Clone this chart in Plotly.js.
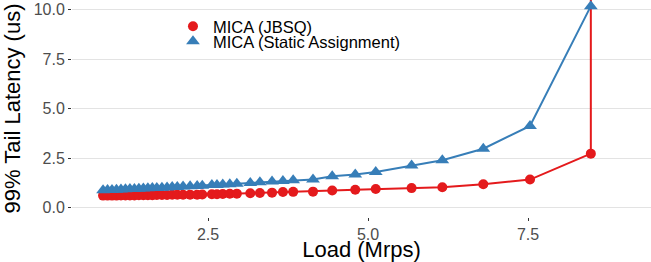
<!DOCTYPE html>
<html>
<head>
<meta charset="utf-8">
<script src="https://cdn.plot.ly/plotly-3.0.1.min.js"></script>
<style>html,body{margin:0;padding:0;background:#fff;}#chart{width:651px;height:262px;}</style>
</head>
<body>
<div id="chart"></div>
<script>
const seriesNames = ["MICA (JBSQ)", "MICA (Static Assignment)"];

const jbsqLoad = [0.86, 0.93, 1.0, 1.07, 1.14, 1.21, 1.28, 1.35, 1.42, 1.49, 1.56, 1.63, 1.70, 1.78, 1.86, 1.94, 2.02, 2.11, 2.22, 2.33, 2.41, 2.56, 2.64, 2.73, 2.84, 2.95, 3.16, 3.31, 3.50, 3.67, 3.83, 4.14, 4.44, 4.80, 5.12, 5.68, 6.16, 6.80, 7.53, 8.48, 8.48];
const jbsqP99 = [0.60, 0.60, 0.60, 0.60, 0.61, 0.61, 0.61, 0.61, 0.62, 0.62, 0.62, 0.62, 0.63, 0.63, 0.63, 0.64, 0.64, 0.64, 0.65, 0.65, 0.66, 0.67, 0.67, 0.68, 0.69, 0.70, 0.72, 0.73, 0.75, 0.78, 0.79, 0.80, 0.86, 0.90, 0.93, 0.98, 1.02, 1.17, 1.41, 2.72, 15.0];

const staticLoad = [0.86, 0.93, 1.0, 1.07, 1.14, 1.21, 1.28, 1.35, 1.42, 1.49, 1.56, 1.63, 1.70, 1.78, 1.86, 1.94, 2.02, 2.11, 2.22, 2.33, 2.41, 2.56, 2.64, 2.73, 2.84, 2.95, 3.16, 3.31, 3.50, 3.67, 3.83, 4.14, 4.44, 4.80, 5.12, 5.68, 6.16, 6.80, 7.53, 8.48];
const staticP99 = [0.87, 0.88, 0.89, 0.90, 0.91, 0.92, 0.93, 0.94, 0.95, 0.96, 0.97, 0.98, 0.99, 1.00, 1.01, 1.03, 1.04, 1.06, 1.07, 1.09, 1.10, 1.13, 1.14, 1.16, 1.18, 1.20, 1.24, 1.27, 1.31, 1.34, 1.37, 1.42, 1.58, 1.67, 1.79, 2.12, 2.39, 2.97, 4.12, 10.17];

const xTicks = [2.5, 5.0, 7.5];
const xTickLabels = ["2.5", "5.0", "7.5"];
const yTicks = [0, 2.5, 5, 7.5, 10];
const yTickLabels = ["0.0", "2.5", "5.0", "7.5", "10.0"];

const FONT = "Liberation Sans, Arial, Helvetica, sans-serif";
const RED = "#E41A1C", BLUE = "#377EB8";

const traces = [
  {x: jbsqLoad, y: jbsqP99, name: seriesNames[0], type: "scatter", mode: "lines",
   line: {color: RED, width: 2}, showlegend: false, hoverinfo: "skip", cliponaxis: true},
  {x: jbsqLoad, y: jbsqP99, name: seriesNames[0], type: "scatter", mode: "markers",
   marker: {color: RED, size: 10, symbol: "circle"}, legend: "legend", cliponaxis: true},
  {x: staticLoad, y: staticP99, name: seriesNames[1], type: "scatter", mode: "lines",
   line: {color: BLUE, width: 2}, showlegend: false, hoverinfo: "skip", cliponaxis: true},
  {x: staticLoad, y: staticP99, name: seriesNames[1], type: "scatter", mode: "markers",
   marker: {color: BLUE, size: 12, symbol: "triangle-up"}, legend: "legend2", cliponaxis: true}
];

const layout = {
  width: 651, height: 262,
  margin: {l: 72, r: 0, t: 0, b: 45},
  paper_bgcolor: "#fff", plot_bgcolor: "#fff",
  font: {family: FONT, color: "#000"},
  showlegend: true,
  legend: {x: 0.1744, xanchor: "left", y: 1 - 26.5/217, yanchor: "middle", bgcolor: "rgba(0,0,0,0)",
           font: {family: FONT, size: 16.5, color: "#000"}},
  legend2: {x: 0.1744, xanchor: "left", y: 1 - 41.5/217, yanchor: "middle", bgcolor: "rgba(0,0,0,0)",
           font: {family: FONT, size: 16.5, color: "#000"}},
  shapes: [{type: "rect", xref: "paper", yref: "paper", x0: 0.195, x1: 0.608, y0: 0.75, y1: 0.99,
            fillcolor: "#fff", line: {width: 0}, layer: "between"}],
  xaxis: {
    range: [0.375, 9.42], tickvals: xTicks, ticktext: xTickLabels,
    showgrid: false, zeroline: false, showline: false,
    ticks: "outside", ticklen: 3, tickwidth: 1, tickcolor: "#333", ticklabelstandoff: 0,
    tickfont: {family: FONT, size: 16, color: "#4D4D4D"},
    title: {text: "Load (Mrps)", font: {family: FONT, size: 22, color: "#000"}, standoff: 4},
    automargin: false
  },
  yaxis: {
    range: [-0.48, 10.48], tickvals: yTicks, ticktext: yTickLabels,
    showgrid: true, gridcolor: "#E3E3E3", gridwidth: 1, zeroline: false, showline: false,
    ticks: "outside", ticklen: 3, tickwidth: 1, tickcolor: "#333",
    tickfont: {family: FONT, size: 16, color: "#4D4D4D"},
    title: {text: "99% Tail Latency (us)", font: {family: FONT, size: 22, color: "#000"}, standoff: 6},
    automargin: false
  }
};

Plotly.newPlot("chart", traces, layout, {displayModeBar: false, staticPlot: true});
</script>
</body>
</html>
